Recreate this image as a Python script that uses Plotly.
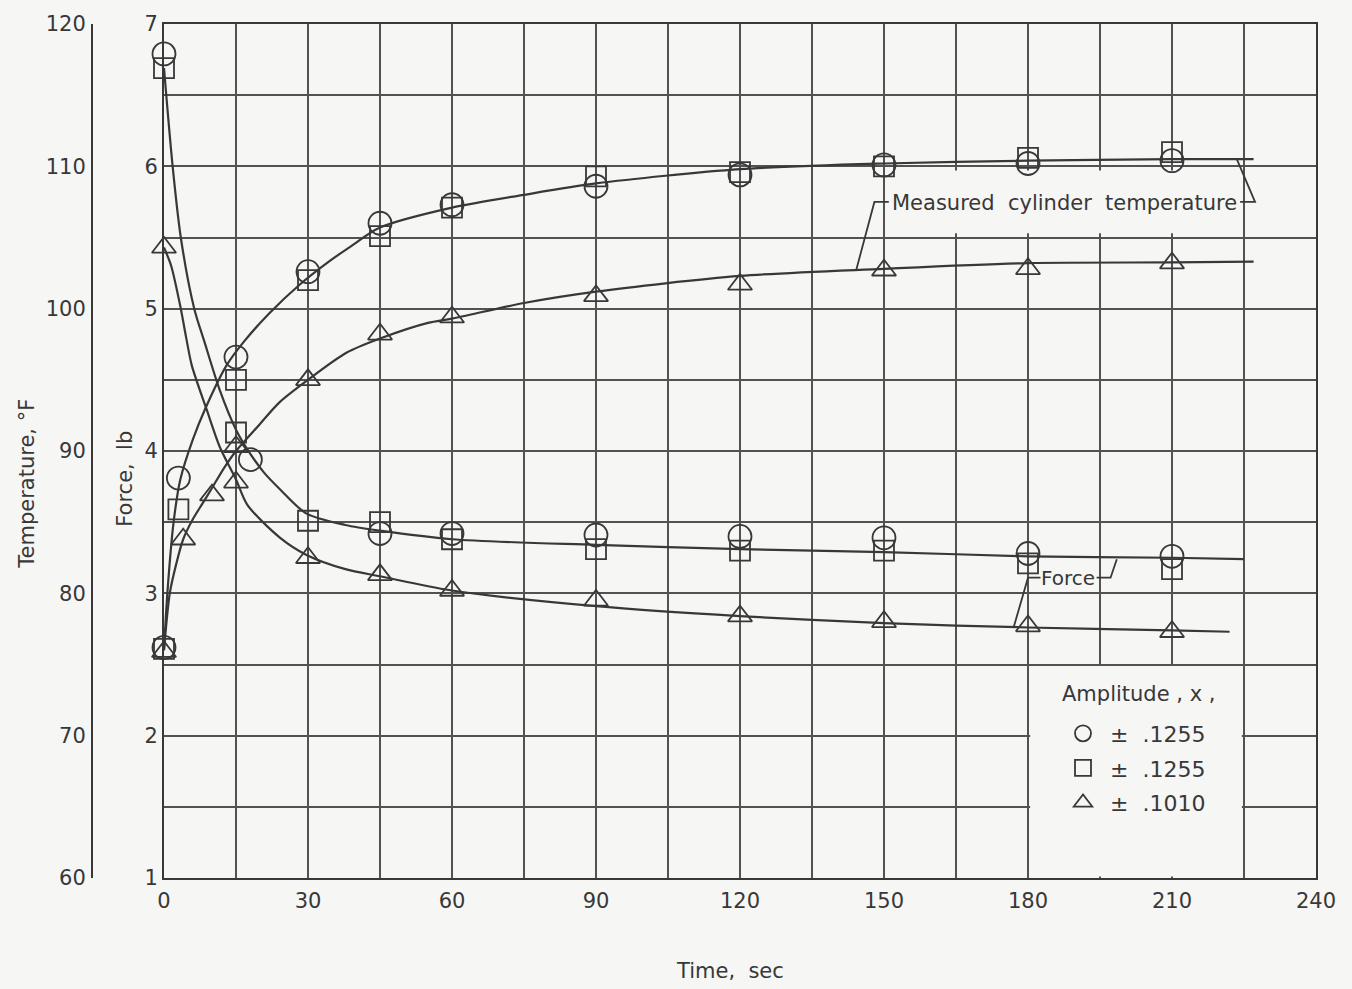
import plotly.graph_objects as go

FONT = "DejaVu Sans"
INK = "#383838"
GRID = "#525252"
BG = "#f6f6f5"

# ---- labels -------------------------------------------------------------
x_title = "Time,\u00a0 sec"
y_force_title = "Force,\u00a0 lb"
y_temp_title = "Temperature, °F"
legend_title = "Amplitude , x ,"
amp_labels = ["\u00a0±\u00a0 .1255", "\u00a0±\u00a0 .1255", "\u00a0±\u00a0 .1010"]
temp_label = "Measured\u00a0 cylinder\u00a0 temperature"
force_label = "Force"

# ---- measured cylinder temperature, deg F ---------------------------------
circ_temp_t = [0, 3, 15, 30, 45, 60, 90, 120, 150, 180, 210]
circ_temp = [76.2, 88.1, 96.6, 102.6, 106.0, 107.3, 108.6, 109.4, 110.1, 110.2, 110.4]
sq_temp_t = [0, 3, 15, 30, 45, 60, 90, 120, 150, 180, 210]
sq_temp = [76.1, 85.9, 95.0, 102.0, 105.1, 107.1, 109.3, 109.6, 110.0, 110.6, 111.0]
tri_temp_t = [0, 4, 10, 15, 30, 45, 60, 90, 120, 150, 180, 210]
tri_temp = [75.9, 83.8, 86.9, 90.3, 95.0, 98.2, 99.4, 100.9, 101.7, 102.7, 102.8, 103.2]

# ---- measured force, lb ---------------------------------------------------
circ_force_t = [0, 18, 45, 60, 90, 120, 150, 180, 210]
circ_force = [6.79, 3.94, 3.42, 3.42, 3.41, 3.40, 3.39, 3.28, 3.26]
sq_force_t = [0, 15, 30, 45, 60, 90, 120, 150, 180, 210]
sq_force = [6.69, 4.13, 3.51, 3.50, 3.38, 3.31, 3.30, 3.30, 3.21, 3.17]
tri_force_t = [0, 15, 30, 45, 60, 90, 120, 150, 180, 210]
tri_force = [5.43, 3.78, 3.25, 3.13, 3.02, 2.95, 2.84, 2.80, 2.77, 2.73]

# ---- faired curves through the test points --------------------------------
big_temp_fair_t = [0, 0.7, 2, 3.4, 6, 8.5, 13, 16.7, 22, 28.3, 33.5, 39, 45,
                   60, 75, 90, 120, 150, 180, 210, 227]
big_temp_fair = [76.0, 80.0, 85.0, 88.0, 90.8, 92.9, 96.0, 97.7, 99.7, 101.7,
                 103.1, 104.4, 105.7, 107.1, 108.0, 108.8, 109.8, 110.2, 110.4,
                 110.5, 110.5]
small_temp_fair_t = [0, 1.2, 2.5, 4, 6, 8, 10, 12.5, 15, 20, 24, 30, 38, 45,
                     55, 60, 75, 90, 120, 150, 180, 210, 227]
small_temp_fair = [76.0, 80.0, 82.0, 83.8, 85.2, 86.3, 87.4, 88.8, 90.0, 91.9,
                   93.4, 95.0, 96.9, 97.9, 99.0, 99.3, 100.4, 101.2, 102.3,
                   102.8, 103.2, 103.25, 103.3]
big_force_fair_t = [0, 1.8, 3.5, 6.3, 8.4, 11.6, 15, 17.4, 20.8, 24.2, 29.7,
                    37.8, 45, 60, 90, 120, 150, 180, 210, 225]
big_force_fair = [6.69, 6.0, 5.5, 5.0, 4.77, 4.43, 4.15, 4.01, 3.85, 3.73,
                  3.56, 3.48, 3.44, 3.38, 3.34, 3.31, 3.29, 3.26, 3.25, 3.24]
small_force_fair_t = [0, 1.5, 3.5, 4.6, 5.8, 8.9, 11.6, 15, 17.4, 24.2, 29.7,
                      37.8, 45, 60, 90, 120, 150, 180, 210, 222]
small_force_fair = [5.43, 5.3, 5.0, 4.8, 4.6, 4.29, 4.03, 3.80, 3.62, 3.39,
                    3.27, 3.17, 3.12, 3.02, 2.91, 2.84, 2.79, 2.76, 2.74, 2.73]

fig = go.Figure()

curve_style = dict(color=INK, width=2.2, shape="spline", smoothing=0.8)
for t, v, ax in [
    (big_temp_fair_t, big_temp_fair, "y2"),
    (small_temp_fair_t, small_temp_fair, "y2"),
    (big_force_fair_t, big_force_fair, "y"),
    (small_force_fair_t, small_force_fair, "y"),
]:
    fig.add_trace(go.Scatter(x=t, y=v, yaxis=ax, mode="lines", line=curve_style,
                             showlegend=False, hoverinfo="skip"))

series = [
    ("circle-open", 23, circ_temp_t, circ_temp, circ_force_t, circ_force, amp_labels[0]),
    ("square-open", 20, sq_temp_t, sq_temp, sq_force_t, sq_force, amp_labels[1]),
    ("triangle-up-open", 21, tri_temp_t, tri_temp, tri_force_t, tri_force, amp_labels[2]),
]
for i, (sym, size, tt, tv, ft, fv, lab) in enumerate(series):
    mk = dict(symbol=sym, size=size, color=INK, line=dict(color=INK, width=1.8))
    fig.add_trace(go.Scatter(x=ft, y=fv, yaxis="y", mode="markers", marker=mk,
                             name=lab, legendgroup=f"g{i}", showlegend=True,
                             cliponaxis=False))
    fig.add_trace(go.Scatter(x=tt, y=tv, yaxis="y2", mode="markers", marker=mk,
                             name=lab, legendgroup=f"g{i}", showlegend=False,
                             cliponaxis=False))

# blank panels behind the key and the curve label
shapes = [
    dict(type="rect", xref="x", yref="y", x0=180.45, x1=224.55, y0=1.01, y1=2.49,
         fillcolor=BG, line=dict(width=0), layer="between"),
    dict(type="rect", xref="x", yref="y", x0=151.5, x1=224.0, y0=5.53, y1=5.97,
         fillcolor=BG, line=dict(width=0), layer="between"),
]
# leader lines from the labels to the curves
leaders = [
    [(151.0, 5.75), (148.0, 5.75), (144.2, 5.27)],
    [(224.2, 5.75), (227.3, 5.75), (223.5, 6.05)],
    [(182.6, 3.11), (180.0, 3.11), (177.0, 2.76)],
    [(194.3, 3.11), (197.2, 3.11), (198.5, 3.24)],
]
for pts in leaders:
    path = "M " + " L ".join(f"{px},{py}" for px, py in pts)
    shapes.append(dict(type="path", xref="x", yref="y", path=path,
                       line=dict(color=INK, width=1.8), layer="above"))

annotations = [
    dict(text=temp_label, x=151.3, y=5.745, xref="x", yref="y", xanchor="left",
         yanchor="middle", showarrow=False, font=dict(size=21)),
    dict(text=force_label, x=188.4, y=3.11, xref="x", yref="y", xanchor="center",
         yanchor="middle", showarrow=False, font=dict(size=20)),
    dict(text=legend_title, x=(1060 - 40) / 1276, y=(878 - 692) / 862,
         xref="paper", yref="paper", xanchor="left", yanchor="middle",
         showarrow=False, font=dict(size=21)),
    dict(text=x_title, x=(730 - 40) / 1276, y=(878 - 972) / 862, xref="paper",
         yref="paper", xanchor="center", yanchor="middle", showarrow=False,
         font=dict(size=21)),
    dict(text=y_force_title, x=(125 - 40) / 1276, y=(878 - 475) / 862, xref="paper",
         yref="paper", xanchor="center", yanchor="middle", textangle=-90,
         showarrow=False, font=dict(size=21)),
    dict(text=y_temp_title, x=(27 - 40) / 1276, y=(878 - 480) / 862, xref="paper",
         yref="paper", xanchor="center", yanchor="middle", textangle=-90,
         showarrow=False, font=dict(size=21)),
]

grid = dict(showgrid=True, gridcolor=GRID, gridwidth=1.5)
fig.update_layout(
    width=1352, height=989,
    margin=dict(l=40, r=36, t=16, b=111),
    paper_bgcolor=BG, plot_bgcolor=BG,
    font=dict(family=FONT, size=21, color=INK),
    shapes=shapes, annotations=annotations,
    legend=dict(x=(1063 - 40) / 1276, y=(878 - 711) / 862,
                xanchor="left", yanchor="top", bgcolor="rgba(0,0,0,0)",
                font=dict(size=22), tracegroupgap=3, itemsizing="trace"),
    xaxis=dict(domain=[(164 - 40) / 1276, 1], range=[0, 240], tick0=0, dtick=30,
               minor=dict(dtick=15, **grid), **grid, zeroline=False,
               showline=True, mirror=True, linecolor=INK, linewidth=2,
               ticks="", ticklabelstandoff=3, tickfont=dict(size=21)),
    yaxis=dict(range=[1, 7], tick0=1, dtick=1,
               minor=dict(dtick=0.5, **grid), **grid, zeroline=False,
               showline=True, mirror=True, linecolor=INK, linewidth=2,
               ticks="", ticklabelstandoff=0, tickfont=dict(size=21)),
    yaxis2=dict(range=[60, 120], dtick=10, overlaying="y", anchor="free",
                position=(92 - 40) / 1276, side="left", showline=True,
                linecolor=INK, linewidth=2, showgrid=False, zeroline=False,
                ticks="", ticklabelstandoff=1, tickfont=dict(size=21)),
)

fig.write_html("out.html")
